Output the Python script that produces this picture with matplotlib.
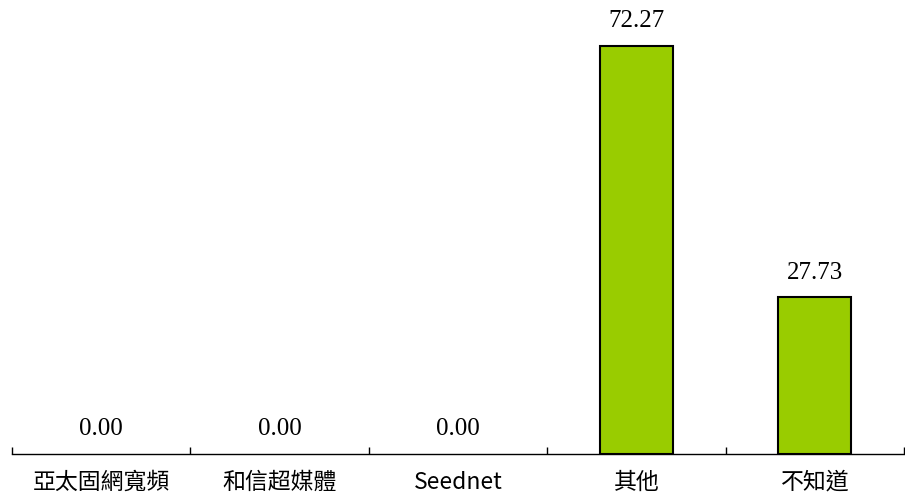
import numpy as np
import matplotlib
matplotlib.use('Agg')
import matplotlib.pyplot as plt

# 各項目與百分比
categories = ['亞太固網寬頻', '和信超媒體', 'Seednet', '其他', '不知道']
values = [0.00, 0.00, 0.00, 72.27, 27.73]

plt.rcParams['font.family'] = ['Noto Sans CJK TC', 'DejaVu Sans']

fig = plt.figure(figsize=(9.05, 4.99), dpi=100)
ax = fig.add_axes([12 / 905, 45 / 499, 892 / 905, 454 / 499])

x = np.arange(len(categories))
edges = ['black' if v > 0 else 'none' for v in values]
bars = ax.bar(x, values, width=0.41, color='#99CC00', edgecolor=edges, linewidth=1.5)

for xi, v in zip(x, values):
    ax.annotate('%.2f' % v, (xi, v), xytext=(0, 10), textcoords='offset points',
                ha='center', va='bottom', fontsize=18, family=['Liberation Serif'])

ax.set_xlim(-0.5, len(categories) - 0.5)
ax.set_ylim(0, 80.4)

ax.set_xticks(x)
ax.set_xticklabels(categories, fontsize=16.5)
ax.set_xticks(np.arange(-0.5, len(categories)), minor=True)
ax.tick_params(axis='x', which='major', length=0, pad=12)
ax.tick_params(axis='x', which='minor', direction='in', length=5, width=1)
ax.set_yticks([])

for s in ['top', 'right', 'left']:
    ax.spines[s].set_visible(False)
ax.spines['bottom'].set_linewidth(1)

fig.savefig('out.png', dpi=100)
